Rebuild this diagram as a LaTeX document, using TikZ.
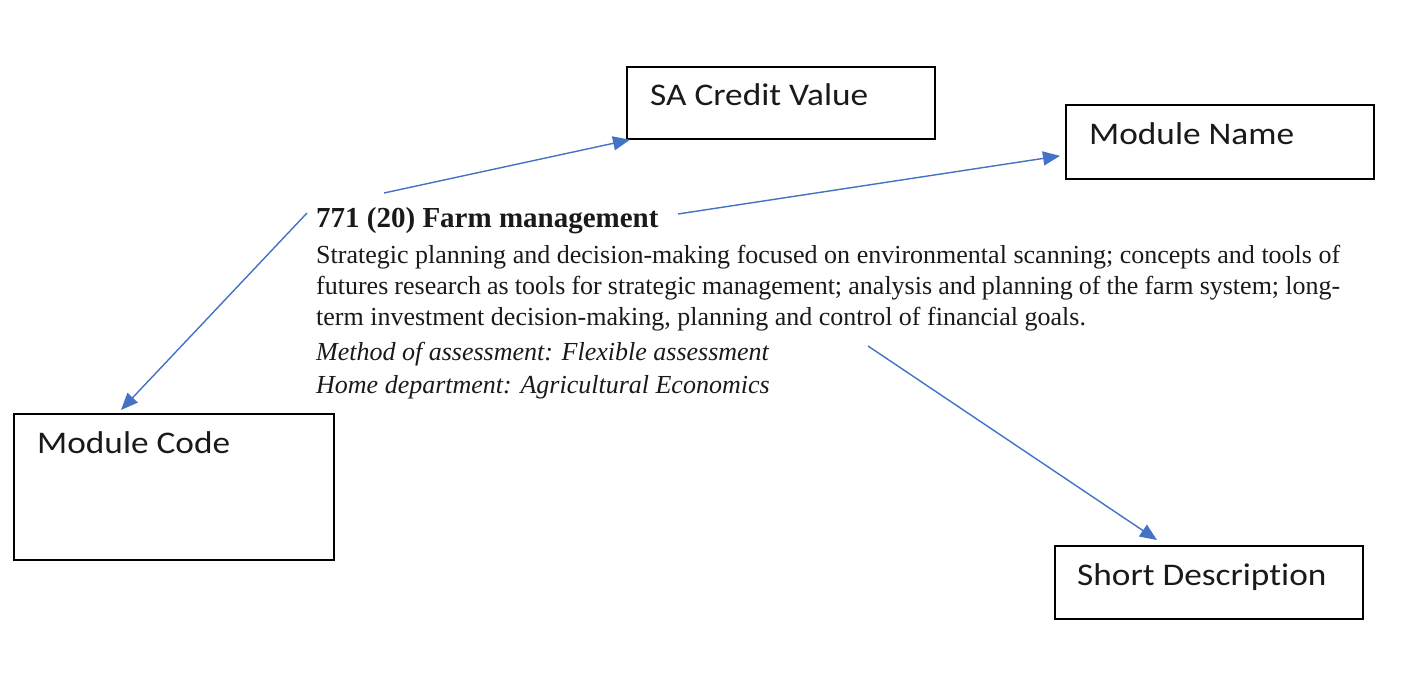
\documentclass[tikz,border=0pt]{standalone}
\usepackage{fontspec}
\usepackage{graphicx}
\setmainfont{Liberation Serif}
\newfontfamily\calib[Ligatures={NoCommon}]{Carlito}
\usetikzlibrary{arrows.meta,calc}
\definecolor{arrowblue}{HTML}{4472C4}
\definecolor{ink}{HTML}{1A1A1A}
\newcommand{\wlbl}[1]{\scalebox{1.12}[1]{#1}}
\begin{document}
\begin{tikzpicture}[x=1pt,y=-1pt,
  box/.style={draw=black, line width=1.7pt, fill=none, inner sep=0pt, anchor=north west},
  lbl/.style={font=\calib\fontsize{31.5}{36}\selectfont, text=ink, inner sep=0pt, anchor=base west},
  body/.style={text=ink, inner sep=0pt, anchor=base west},
  conn/.style={draw=arrowblue, line width=1.4pt, -{Triangle[length=17pt,width=14pt]}}]
\path[fill=white] (0,0) rectangle (1428,689);
\useasboundingbox (0,0) rectangle (1428,689);
% boxes
\node[box, minimum width=308pt, minimum height=72pt] (sa) at (626,66) {};
\node[lbl] (salbl) at (650,105) {\wlbl{SA Credit Value}};
\node[box, minimum width=308pt, minimum height=74pt] (mn) at (1065,104) {};
\node[lbl] (mnlbl) at (1089,144) {\wlbl{Module Name}};
\node[box, minimum width=320pt, minimum height=146pt] (mc) at (13,413) {};
\node[lbl] (mclbl) at (37,453) {\wlbl{Module Code}};
\node[box, minimum width=308pt, minimum height=73pt] (sd) at (1054,545) {};
\node[lbl] (sdlbl) at (1077,585) {\wlbl{Short Description}};
% text block
\node[body, font=\fontsize{29}{32}\selectfont\bfseries] (head) at (316,227) {771 (20) Farm management};
\node[body, font=\fontsize{26}{31}\selectfont] (desc) at (316,263)
 {\parbox[t]{1024pt}{Strategic planning and decision-making focused on environmental scanning; concepts and tools of\linebreak futures research as tools for strategic management; analysis and planning of the farm system; long-\linebreak term investment decision-making, planning and control of financial goals.}};
\node[body, font=\fontsize{26}{30}\selectfont\itshape] (meth) at (316,360) {Method of assessment: Flexible assessment};
\node[body, font=\fontsize{26}{30}\selectfont\itshape] (home) at (316,393) {Home department: Agricultural Economics};
% connector start points
\coordinate (s1) at (384,193);
\coordinate (s2) at (678,214);
\coordinate (s3) at (307,213);
\coordinate (s4) at (868,346);
\draw[conn] (s1) -- ($(sa.south west)+(4,0)$);
\draw[conn] (s2) -- ($(mn.west)+(-5,14)$);
\draw[conn] (s3) -- ($(mc.north west)+(108,-3)$);
\draw[conn] (s4) -- ($(sd.north west)+(103,-5)$);
\end{tikzpicture}
\end{document}
